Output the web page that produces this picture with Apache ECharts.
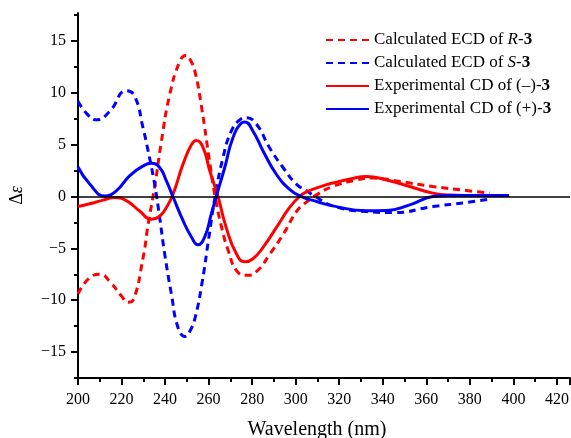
<!DOCTYPE html>
<html>
<head>
<meta charset="utf-8">
<script src="https://cdn.jsdelivr.net/npm/echarts@6/dist/echarts.min.js"></script>
<style>
  html, body { margin: 0; padding: 0; background: #fff; }
  #chart { width: 571px; height: 438px; }
</style>
</head>
<body>
<div id="chart"></div>
<script>
// Calculated ECD of R-3 (dashed red)
const calcRWl = [200, 205, 210, 215, 220, 223, 225.3, 229.9, 232.2, 235.2, 238.3, 242.1, 246.7, 249.5, 251.8, 253.9, 257, 260, 263, 266, 269, 273, 277.6, 282.2, 288.3, 294.4, 300.5, 304.3, 309.6, 317, 328, 335.6, 347.8, 363, 378.4, 389];
const calcR = [-9.4, -7.9, -7.5, -8.3, -9.6, -10.2, -10.0, -5.9, -2.7, 0.9, 5.3, 9.8, 13.0, 13.6, 13.1, 11.9, 8.3, 4.0, 0, -3.0, -5.2, -7.2, -7.6, -7.2, -5.5, -3.6, -1.4, -0.64, 0.16, 0.97, 1.6, 1.78, 1.45, 0.97, 0.58, 0.33];

// Calculated ECD of S-3 (dashed blue)
const calcSWl = [200, 204, 208.4, 214.5, 222.2, 226, 229.9, 232.2, 235.2, 237.5, 239.8, 242.9, 245.9, 249.2, 251.6, 253.9, 257, 260, 263, 266.6, 270.4, 274.3, 277.3, 281.9, 288, 294.2, 300.3, 305, 309, 317, 332.6, 344.8, 363, 378.4, 389];
const calcS = [9.2, 8.0, 7.4, 8.2, 10.2, 9.7, 6.6, 4.4, 1.2, -2.0, -5.5, -9.4, -12.6, -13.5, -12.9, -11.6, -8.3, -4.1, 0, 3.75, 6.3, 7.4, 7.6, 7.0, 4.7, 2.8, 1.2, 0.55, 0, -0.9, -1.45, -1.55, -0.97, -0.58, -0.25];

// Experimental CD of (–)-3 (solid red)
const expMinusWl = [200, 205.4, 211.5, 216.8, 222.2, 228.3, 233.7, 237.5, 240.6, 243.6, 248.2, 252.1, 254.4, 257.5, 260.5, 264.3, 268.1, 272.7, 276.6, 280.4, 285, 291.1, 297.2, 301.8, 305, 313.4, 317, 325, 332.6, 341.7, 352.4, 363, 370.6, 385, 398];
const expMinus = [-0.96, -0.7, -0.35, -0.1, -0.4, -1.4, -2.2, -1.9, -1.05, 0.2, 3.1, 5.0, 5.4, 4.7, 2.5, 0, -3.0, -5.5, -6.3, -6.0, -4.9, -3.0, -1.05, 0, 0.45, 1.1, 1.3, 1.7, 1.93, 1.6, 0.97, 0.33, 0.15, 0.1, 0.1];

// Experimental CD of (+)-3 (solid blue)
const expPlusWl = [200, 205.4, 212.3, 217.6, 223.7, 229.9, 233.7, 237.5, 240.6, 243.6, 248.2, 252.1, 255.1, 258.2, 261.2, 263.5, 267.4, 271.2, 275.1, 276.6, 280.4, 285, 291.1, 297.2, 302.1, 309.6, 317, 332.6, 341.7, 352.4, 363, 370.6, 385, 398];
const expPlus = [2.85, 1.2, 0.05, 0.55, 2.0, 2.95, 3.2, 2.8, 1.5, 0, -2.3, -3.9, -4.65, -3.9, -1.7, 0, 2.8, 5.7, 7.1, 7.2, 6.3, 4.4, 2.15, 0.7, 0.05, -0.48, -0.9, -1.38, -1.35, -0.8, 0, 0.1, 0.1, 0.1];

const yMajor = [-15, -10, -5, 0, 5, 10, 15];
const yMinor = [-17.5, -12.5, -7.5, -2.5, 2.5, 7.5, 12.5, 17.5];

const serif = "'Liberation Serif', 'Times New Roman', serif";
const pairs = (xs, ys) => xs.map((x, i) => [x, ys[i]]);

const legendRich = {
  Calc_R: "{n|Calculated ECD of }{i|R}{n|-}{b|3}",
  Calc_S: "{n|Calculated ECD of }{i|S}{n|-}{b|3}",
  Exp_M: "{n|Experimental CD of (–)-}{b|3}",
  Exp_P: "{n|Experimental CD of (+)-}{b|3}",
};

const chart = echarts.init(document.getElementById("chart"));

const lineSeries = (name, data, color, dashed) => ({
  name: name,
  type: "line",
  data: data,
  smooth: 0.5,
  showSymbol: false,
  symbol: "none",
  lineStyle: {
    color: color,
    width: 3,
    type: dashed ? [7, 5] : "solid",
  },
  itemStyle: { color: color },
});

const option = {
  animation: false,
  backgroundColor: "#fff",
  grid: {
    left: 78,
    right: 1,
    top: 13,
    bottom: 60,
    outerBoundsMode: "none",
  },
  legend: {
    orient: "vertical",
    left: 325,
    top: 30,
    padding: 0,
    itemWidth: 43,
    itemHeight: 14,
    itemGap: 3,
    itemStyle: { opacity: 0 },
    data: ["Calc_R", "Calc_S", "Exp_M", "Exp_P"],
    formatter: (name) => legendRich[name],
    textStyle: {
      fontFamily: serif,
      fontSize: 17,
      color: "#000",
      lineHeight: 20,
      rich: {
        n: { fontFamily: serif, fontSize: 17, color: "#000" },
        i: { fontFamily: serif, fontSize: 17, fontStyle: "italic", color: "#000" },
        b: { fontFamily: serif, fontSize: 17, fontWeight: "bold", color: "#000" },
      },
    },
  },
  xAxis: {
    type: "value",
    min: 200,
    max: 426,
    interval: 20,
    name: "Wavelength (nm)",
    nameLocation: "middle",
    nameGap: 42,
    nameTextStyle: {
      fontFamily: serif,
      fontSize: 20,
      color: "#000",
      padding: [0, 14, 0, 0],
    },
    axisLine: { onZero: false, lineStyle: { color: "#000", width: 2 } },
    axisTick: { length: 7, lineStyle: { color: "#000", width: 2 } },
    minorTick: { show: true, splitNumber: 2, length: 4, lineStyle: { color: "#000", width: 2 } },
    axisLabel: {
      margin: 14,
      fontFamily: serif,
      fontSize: 16,
      color: "#000",
      showMaxLabel: false,
      formatter: (v) => (v > 420 ? "" : String(v)),
    },
    splitLine: { show: false },
  },
  yAxis: [
    {
      type: "value",
      min: -17.5,
      max: 17.7,
      name: "{d|Δ}{e|ε}",
      nameLocation: "middle",
      nameGap: 52,
      nameTextStyle: {
        color: "#000",
        rich: {
          d: { fontFamily: serif, fontSize: 18, color: "#000" },
          e: { fontFamily: serif, fontSize: 18, fontStyle: "italic", color: "#000" },
        },
      },
      axisLine: { onZero: false, lineStyle: { color: "#000", width: 2 } },
      axisTick: { length: 7, customValues: yMajor, lineStyle: { color: "#000", width: 2 } },
      axisLabel: {
        margin: 12,
        customValues: yMajor,
        fontFamily: serif,
        fontSize: 16,
        color: "#000",
        formatter: (v) => String(v).replace("-", "−"),
      },
      splitLine: { show: false },
    },
    {
      type: "value",
      min: -17.5,
      max: 17.7,
      position: "left",
      axisLine: { show: false },
      axisTick: { show: true, length: 4, customValues: yMinor, lineStyle: { color: "#000", width: 2 } },
      axisLabel: { show: false },
      splitLine: { show: false },
    },
  ],
  series: [
    Object.assign(lineSeries("Calc_R", pairs(calcRWl, calcR), "#ff0000", true), {
      markLine: {
        silent: true,
        symbol: "none",
        label: { show: false },
        lineStyle: { color: "#000", width: 1.5, type: "solid" },
        data: [{ yAxis: 0 }],
      },
    }),
    lineSeries("Calc_S", pairs(calcSWl, calcS), "#0000ff", true),
    lineSeries("Exp_M", pairs(expMinusWl, expMinus), "#ff0000", false),
    lineSeries("Exp_P", pairs(expPlusWl, expPlus), "#0000ff", false),
  ],
};

chart.setOption(option);
</script>
</body>
</html>
